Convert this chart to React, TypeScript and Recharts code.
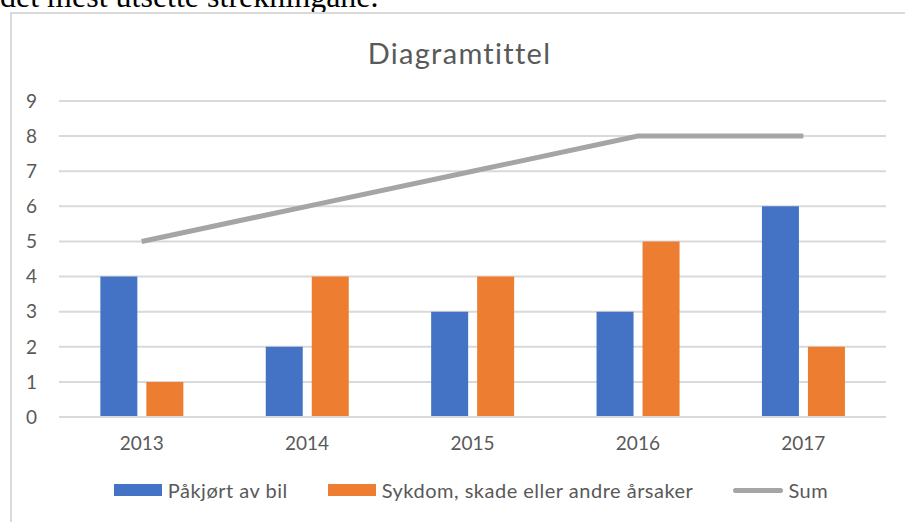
import { ComposedChart, Bar, Line, XAxis, YAxis, CartesianGrid, Legend } from 'recharts';

const years = ['2013', '2014', '2015', '2016', '2017'];
const pakjort = [4, 2, 3, 3, 6];
const sykdom = [1, 4, 4, 5, 2];
const sum = [5, 6, 7, 8, 8];
const yTicks = [0, 1, 2, 3, 4, 5, 6, 7, 8, 9];
const legendOrder = ['Påkjørt av bil', 'Sykdom, skade eller andre årsaker', 'Sum'];

const data = years.map((year, i) => ({
  year,
  pakjort: pakjort[i],
  sykdom: sykdom[i],
  sum: sum[i],
}));

const FONT = 'Lato, "Open Sans", sans-serif';

// egen legend, Excel-stil
const renderLegend = (props: any) => {
  const items = [...(props.payload || [])].sort(
    (a: any, b: any) => legendOrder.indexOf(a.value) - legendOrder.indexOf(b.value)
  );
  return (
    <div style={{ display: 'flex', justifyContent: 'center', gap: 40, paddingLeft: 44, fontFamily: FONT, fontSize: 20, letterSpacing: 0.5, color: '#595959' }}>
      {items.map((entry: any) => (
        <div key={entry.value} style={{ display: 'flex', alignItems: 'center' }}>
          {entry.type === 'line' ? (
            <span style={{ width: 50, height: 5, borderRadius: 3, background: entry.color, marginRight: 5 }} />
          ) : (
            <span style={{ width: 48, height: 12, background: entry.color, marginRight: 6 }} />
          )}
          <span>{entry.value}</span>
        </div>
      ))}
    </div>
  );
};

export default function App() {
  return (
    <div style={{ position: 'fixed', left: 0, top: 0, width: 905, height: 522, overflow: 'hidden', background: '#fff' }}>
      <div style={{ position: 'absolute', left: 0, top: -22, fontFamily: '"Liberation Serif", serif', fontSize: 32, color: '#000', whiteSpace: 'nowrap', lineHeight: '36px' }}>
        det mest utsette strekningane.
      </div>
      <div style={{ position: 'absolute', left: 10, top: 12, width: 905, height: 520, border: '2px solid #d9d9d9', background: '#fff' }}>
        <div style={{ position: 'absolute', left: 0, width: 895, top: 21, textAlign: 'center', fontFamily: FONT, fontSize: 29, letterSpacing: 1.3, color: '#595959' }}>
          Diagramtittel
        </div>
        <ComposedChart
          width={893}
          height={506}
          data={data}
          margin={{ top: 87, right: 19, left: 0, bottom: 49 }}
          barCategoryGap="25%"
          barGap={9}
        >
          <CartesianGrid vertical={false} stroke="#d9d9d9" strokeWidth={2} />
          <XAxis
            dataKey="year"
            axisLine={{ stroke: '#d9d9d9', strokeWidth: 2 }}
            tickLine={false}
            tickMargin={14}
            tick={{ fill: '#595959', fontSize: 19, fontFamily: FONT }}
          />
          <YAxis
            width={47}
            domain={[0, 9]}
            ticks={yTicks}
            axisLine={false}
            tickLine={false}
            tickMargin={16}
            tick={{ fill: '#595959', fontSize: 19, fontFamily: FONT }}
          />
          <Legend content={renderLegend} verticalAlign="bottom" wrapperStyle={{ bottom: 18 }} />
          <Bar dataKey="pakjort" name="Påkjørt av bil" fill="#4472c4" isAnimationActive={false} />
          <Bar dataKey="sykdom" name="Sykdom, skade eller andre årsaker" fill="#ed7d31" isAnimationActive={false} />
          <Line
            type="linear"
            dataKey="sum"
            name="Sum"
            stroke="#a5a5a5"
            strokeWidth={5}
            dot={false}
            legendType="line"
            isAnimationActive={false}
          />
        </ComposedChart>
      </div>
    </div>
  );
}
